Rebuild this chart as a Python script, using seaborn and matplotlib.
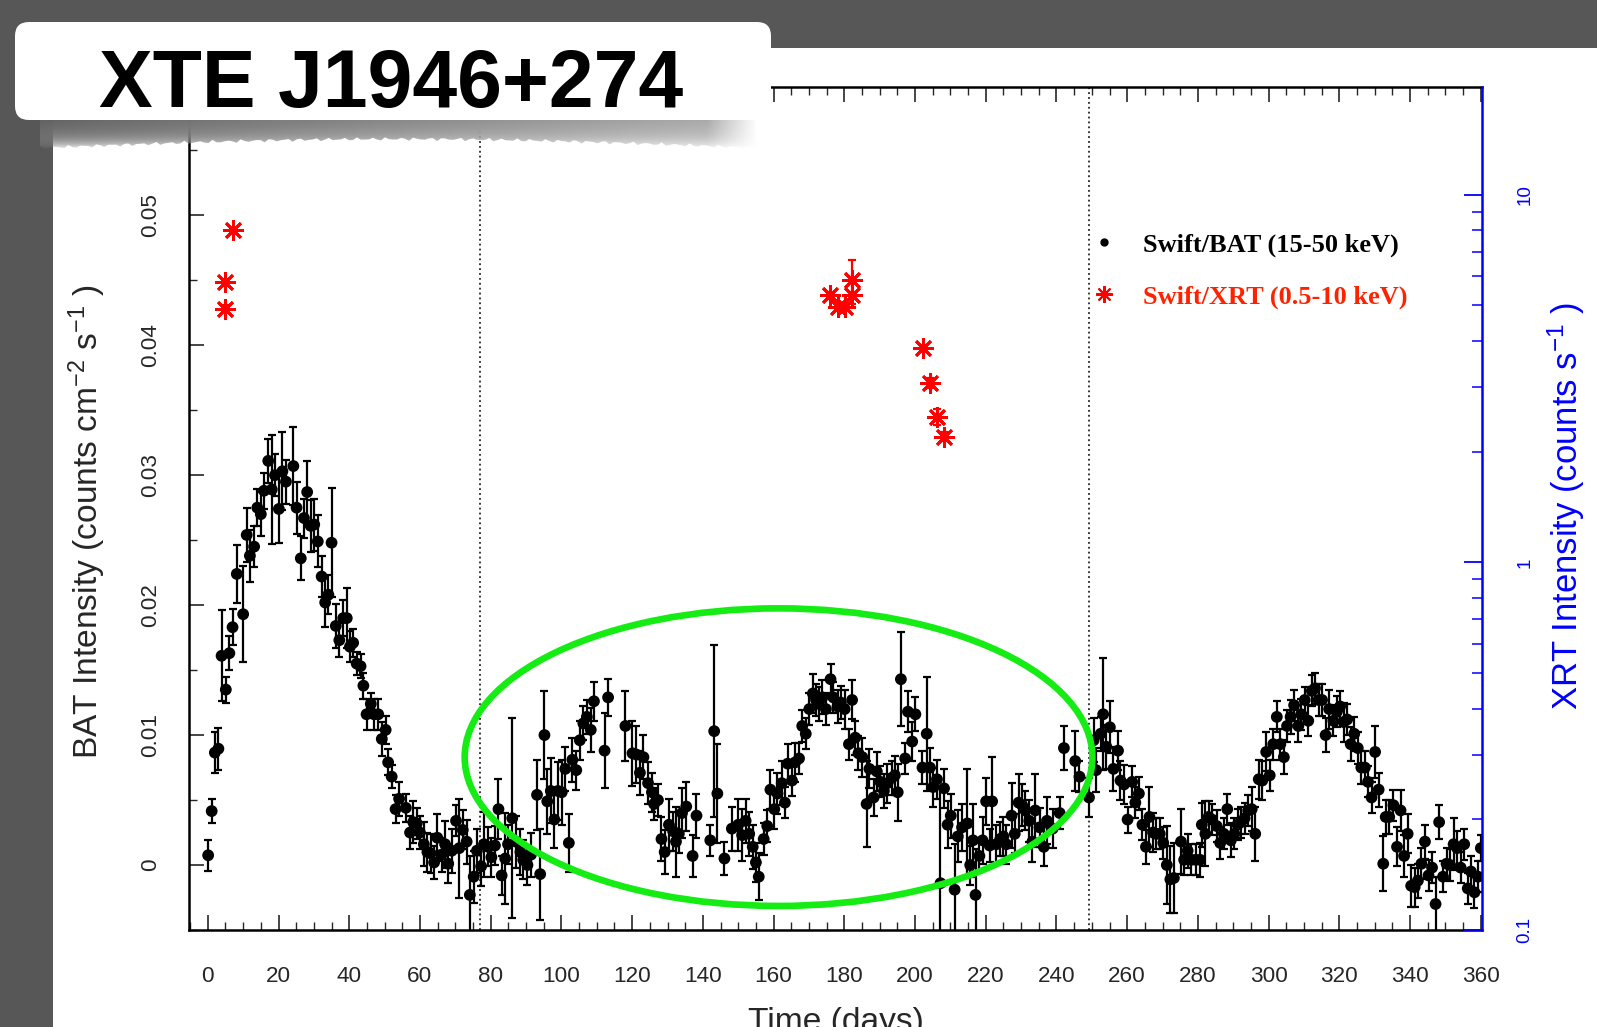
import numpy as np
import pandas as pd
import matplotlib
matplotlib.use("Agg")
import matplotlib.pyplot as plt
import seaborn as sns
from matplotlib import font_manager
from matplotlib.patches import Rectangle, FancyBboxPatch, Ellipse, Polygon
from matplotlib.lines import Line2D
from matplotlib.ticker import MultipleLocator, LogLocator, NullFormatter, FuncFormatter

# ---------------- data ----------------
bat_day = [
    0.1, 1.1, 2.0, 3.0, 3.9, 5.1, 6.1, 7.0, 8.2, 10.0, 11.0, 11.9, 13.1, 14.0, 15.0, 15.9,
    17.1, 18.1, 19.0, 20.1, 21.1, 22.1, 24.2, 25.1, 26.3, 27.2, 28.1, 29.1, 30.1, 31.1,
    32.2, 33.2, 34.1, 35.0, 36.2, 37.2, 38.3, 39.3, 40.2, 41.1, 42.1, 43.2, 44.0, 44.9,
    46.1, 47.0, 48.2, 49.2, 50.3, 51.0, 52.0, 53.1, 54.1, 56.0, 57.2, 58.1, 59.1, 60.0,
    61.1, 62.1, 63.0, 64.0, 64.9, 66.1, 67.1, 68.0, 69.0, 70.2, 71.1, 72.1, 73.2, 74.1,
    75.2, 76.1,
    77.3, 78.1, 79.3, 80.2, 81.2, 82.2, 83.1, 84.1, 84.9, 86.1, 87.2, 88.4, 89.2, 90.4,
    91.4, 93.1, 94.0, 95.2, 96.0, 97.0, 98.0, 99.0, 100.1, 101.1, 102.1, 103.1, 104.2,
    105.2, 106.2, 107.2, 108.3, 109.2, 112.2, 113.2, 118.1, 120.1, 121.2, 122.2, 123.2,
    124.5, 125.6, 126.2, 127.3, 128.3, 129.2, 130.4, 131.6, 132.4, 133.2, 134.1, 135.3,
    137.1, 138.2, 142.1, 143.2, 144.1, 146.1, 148.2, 150.0, 151.1, 152.1, 153.1, 154.1,
    155.0, 155.8, 157.2, 158.2, 159.1, 160.2, 161.1, 162.3, 163.2, 164.0, 165.2, 166.1,
    167.2, 168.1, 169.1, 170.1, 171.1, 172.0, 172.8, 173.8, 174.8, 176.1, 176.9, 178.1,
    179.0, 180.1, 181.3, 182.2, 183.1, 184.0, 185.1, 186.3, 187.1, 188.3, 189.2, 190.2,
    191.2, 192.2, 193.4, 194.3, 195.1, 196.0, 197.2, 198.0, 199.2, 200.1, 202.1, 203.3,
    204.2, 205.1, 206.2, 207.2, 208.2, 209.2, 210.1, 211.2, 212.1, 213.3, 214.8, 215.6,
    216.4, 217.1, 218.2, 219.1, 220.1, 221.1, 221.8, 223.0, 224.1, 225.0, 225.8, 227.3,
    228.2, 229.3, 230.3, 231.2, 232.3, 233.2, 234.0, 235.2, 236.4, 237.3,
    238.9, 240.9, 242.1, 245.3, 246.5, 249.2, 250.5, 251.2, 252.5, 253.2, 254.1, 255.1,
    256.1, 257.4, 258.1, 259.1, 260.1, 261.4, 262.3, 263.3, 264.3, 265.3, 266.3, 267.3,
    268.2, 269.2, 270.2, 271.2, 272.2, 273.2, 275.2, 276.1, 277.1, 278.1, 279.4, 280.6,
    281.1, 282.1, 283.0, 284.0, 285.3, 286.3, 287.3, 288.3, 289.3, 290.3, 291.2, 292.2,
    293.2, 294.2, 295.2, 296.2, 297.2, 298.2, 299.3, 300.3, 301.3, 302.3, 303.3, 304.3,
    305.2, 306.2, 307.2, 308.4, 309.2, 310.2, 311.2, 312.2, 313.1, 314.1, 315.1, 316.1,
    317.1, 318.3, 319.3, 320.2, 321.2, 322.2, 323.2, 324.2, 325.2, 326.2, 327.2, 328.1,
    329.1, 330.1, 331.1, 332.4, 333.1, 334.1, 335.3, 336.3, 337.3, 338.3, 339.3, 340.3,
    341.3, 342.2, 343.2, 344.2, 345.2, 346.2, 347.2, 348.2, 349.3, 350.3, 351.3, 352.3,
    353.3, 354.3, 355.3, 356.3, 357.2, 358.2, 359.2, 360.0,
]

bat_rate = [
    0.00075, 0.00415, 0.00865, 0.00895, 0.0161, 0.0135, 0.0163, 0.0183, 0.0224, 0.0193,
    0.0254, 0.0238, 0.0245, 0.0275, 0.0270, 0.0288, 0.0311, 0.0289, 0.0300, 0.0274,
    0.0303, 0.0295, 0.0307, 0.0275, 0.0236, 0.0267, 0.0287, 0.0261, 0.0262, 0.0249,
    0.0222, 0.0202, 0.0208, 0.0248, 0.0184, 0.0173, 0.0190, 0.0190, 0.0168, 0.0171,
    0.0155, 0.0153, 0.0138, 0.0116, 0.0124, 0.0116, 0.0116, 0.0097, 0.0104, 0.0079,
    0.0068, 0.0043, 0.0051, 0.0044, 0.0025, 0.0033, 0.0032, 0.0025, 0.0016, 0.0010,
    0.0009, 0.0002, 0.0021, 0.0008, 0.0016, 0.0001, 0.0011, 0.0034, 0.0013, 0.0027,
    0.0018, -0.0023, -0.0009, 0.0011,
    -0.0001, 0.0016, 0.0014, 0.0006, 0.0015, 0.0043, -0.0008, 0.0005, 0.0016, 0.0036,
    0.0018, 0.0010, 0.0004, 0.0000, 0.0008, 0.0054, -0.0007, 0.0100, 0.0049, 0.0057,
    0.0035, 0.0057, 0.0056, 0.0074, 0.0017, 0.0081, 0.0073, 0.0096, 0.0109, 0.0114,
    0.0104, 0.0126, 0.0088, 0.0129, 0.0107, 0.0086, 0.0085, 0.0071, 0.0083, 0.0063,
    0.0056, 0.0047, 0.0050, 0.0020, 0.0010, 0.0031, 0.0026, 0.0018, 0.0024, 0.0040,
    0.0045, 0.0007, 0.0038, 0.0019, 0.0103, 0.0055, 0.0005, 0.0028, 0.0031, 0.0023,
    0.0034, 0.0024, 0.0014, 0.0002, -0.0009, 0.0020, 0.0030, 0.0058, 0.0043, 0.0055,
    0.0063, 0.0048, 0.0078, 0.0065, 0.0079, 0.0082, 0.0107, 0.0101, 0.0120, 0.0132,
    0.0127, 0.0124, 0.0129, 0.0120, 0.0143, 0.0129, 0.0122, 0.0125, 0.0120, 0.0093,
    0.0127, 0.0098, 0.0086, 0.0083, 0.0047, 0.0074, 0.0052, 0.0072, 0.0064, 0.0057,
    0.0063, 0.0067, 0.0069, 0.0056, 0.0143, 0.0082, 0.0118, 0.0095, 0.0116, 0.0075,
    0.0101, 0.0075, 0.0060, 0.0066, -0.0014, 0.0059, 0.0031, 0.0038, -0.0019, 0.0022,
    0.0029, 0.0032, 0.0000, 0.0019, -0.0023, 0.0007, 0.0019, 0.0049, 0.0015, 0.0049,
    0.0016, 0.0020, 0.0022, 0.0016, 0.0038, 0.0024, 0.0048, 0.0046, 0.0042, 0.0034,
    0.0018, 0.0042, 0.0029, 0.0014, 0.0034,
    0.0028, 0.0040, 0.0090, 0.0080, 0.0068, 0.0052, 0.0096, 0.0073, 0.0101, 0.0116,
    0.0091, 0.0106, 0.0074, 0.0088, 0.0065, 0.0062, 0.0035, 0.0064, 0.0048, 0.0055,
    0.0031, 0.0014, 0.0037, 0.0025, 0.0024, 0.0024, 0.0017, 0.0000, -0.0011, -0.0010,
    0.0018, 0.0004, 0.0011, 0.0004, 0.0004, 0.0004, 0.0031, 0.0024, 0.0037, 0.0035,
    0.0030, 0.0017, 0.0024, 0.0043, 0.0019, 0.0024, 0.0031, 0.0033, 0.0036, 0.0042,
    0.0043, 0.0024, 0.0066, 0.0065, 0.0087, 0.0069, 0.0093, 0.0114, 0.0093, 0.0083,
    0.0107, 0.0114, 0.0123, 0.0107, 0.0116, 0.0127, 0.0111, 0.0134, 0.0136, 0.0127,
    0.0127, 0.0100, 0.0120, 0.0111, 0.0118, 0.0122, 0.0110, 0.0112, 0.0093, 0.0101,
    0.0090, 0.0075, 0.0075, 0.0064, 0.0052, 0.0087, 0.0058, 0.0001, 0.0037, 0.0037,
    0.0046, 0.0014, 0.0042, 0.0007, 0.0024, -0.0016, -0.0017, -0.0012, 0.0001, 0.0018,
    -0.0008, -0.0002, -0.0030, 0.0033, -0.0009, 0.0001, 0.0000, 0.0016, 0.0013, -0.0002,
    0.0016, -0.0018, -0.0005, -0.0021, -0.0009, 0.0013,
]

bat_err = [
    0.0012, 0.0009, 0.0016, 0.0016, 0.0035, 0.0010, 0.0013, 0.0014, 0.0022, 0.0037,
    0.0021, 0.0020, 0.0016, 0.0014, 0.0017, 0.0014, 0.0017, 0.0042, 0.0016, 0.0026,
    0.0030, 0.0017, 0.0030, 0.0020, 0.0017, 0.0015, 0.0024, 0.0020, 0.0020, 0.0020,
    0.0016, 0.0019, 0.0015, 0.0042, 0.0017, 0.0013, 0.0014, 0.0023, 0.0012, 0.0011,
    0.0009, 0.0009, 0.0010, 0.0012, 0.0008, 0.0012, 0.0012, 0.0013, 0.0011, 0.0010,
    0.0009, 0.0011, 0.0013, 0.0011, 0.0013, 0.0016, 0.0012, 0.0013, 0.0017, 0.0015,
    0.0015, 0.0013, 0.0018, 0.0013, 0.0018, 0.0015, 0.0017, 0.0012, 0.0038, 0.0015,
    0.0017, 0.0030, 0.0020, 0.0017,
    0.0015, 0.0025, 0.0015, 0.0015, 0.0015, 0.0023, 0.0015, 0.0035, 0.0015, 0.0077,
    0.0020, 0.0018, 0.0015, 0.0015, 0.0017, 0.0027, 0.0035, 0.0034, 0.0025, 0.0025,
    0.0022, 0.0022, 0.0025, 0.0017, 0.0022, 0.0017, 0.0015, 0.0015, 0.0013, 0.0013,
    0.0017, 0.0015, 0.0029, 0.0014, 0.0027, 0.0025, 0.0022, 0.0017, 0.0017, 0.0016,
    0.0015, 0.0012, 0.0012, 0.0017, 0.0017, 0.0020, 0.0015, 0.0027, 0.0015, 0.0019,
    0.0019, 0.0016, 0.0017, 0.0012, 0.0066, 0.0038, 0.0013, 0.0017, 0.0020, 0.0020,
    0.0017, 0.0017, 0.0017, 0.0015, 0.0018, 0.0012, 0.0012, 0.0015, 0.0015, 0.0016,
    0.0017, 0.0012, 0.0015, 0.0012, 0.0015, 0.0012, 0.0012, 0.0012, 0.0012, 0.0015,
    0.0012, 0.0013, 0.0013, 0.0012, 0.0012, 0.0012, 0.0013, 0.0013, 0.0015, 0.0012,
    0.0015, 0.0013, 0.0013, 0.0015, 0.0033, 0.0015, 0.0014, 0.0015, 0.0012, 0.0013,
    0.0015, 0.0013, 0.0015, 0.0022, 0.0036, 0.0012, 0.0016, 0.0015, 0.0013, 0.0013,
    0.0044, 0.0015, 0.0015, 0.0015, 0.0075, 0.0015, 0.0018, 0.0017, 0.0035, 0.0020,
    0.0018, 0.0042, 0.0015, 0.0028, 0.0035, 0.0012, 0.0018, 0.0018, 0.0013, 0.0034,
    0.0015, 0.0013, 0.0015, 0.0015, 0.0025, 0.0015, 0.0022, 0.0016, 0.0015, 0.0016,
    0.0016, 0.0028, 0.0015, 0.0015, 0.0018,
    0.0015, 0.0012, 0.0017, 0.0023, 0.0012, 0.0015, 0.0017, 0.0017, 0.0013, 0.0043,
    0.0017, 0.0020, 0.0017, 0.0015, 0.0015, 0.0015, 0.0010, 0.0012, 0.0012, 0.0013,
    0.0012, 0.0013, 0.0023, 0.0015, 0.0012, 0.0012, 0.0012, 0.0030, 0.0026, 0.0027,
    0.0025, 0.0012, 0.0013, 0.0012, 0.0012, 0.0013, 0.0017, 0.0025, 0.0012, 0.0012,
    0.0012, 0.0012, 0.0012, 0.0012, 0.0013, 0.0012, 0.0012, 0.0012, 0.0012, 0.0012,
    0.0017, 0.0021, 0.0015, 0.0015, 0.0015, 0.0012, 0.0012, 0.0012, 0.0012, 0.0013,
    0.0012, 0.0013, 0.0012, 0.0012, 0.0012, 0.0010, 0.0012, 0.0012, 0.0012, 0.0012,
    0.0012, 0.0013, 0.0015, 0.0012, 0.0012, 0.0012, 0.0015, 0.0012, 0.0013, 0.0013,
    0.0012, 0.0013, 0.0013, 0.0012, 0.0012, 0.0020, 0.0013, 0.0021, 0.0013, 0.0013,
    0.0012, 0.0015, 0.0016, 0.0016, 0.0015, 0.0016, 0.0015, 0.0013, 0.0012, 0.0013,
    0.0012, 0.0012, 0.0021, 0.0013, 0.0012, 0.0012, 0.0012, 0.0020, 0.0013, 0.0012,
    0.0012, 0.0012, 0.0012, 0.0012, 0.0012, 0.0010,
]

xrt_day = [4.9, 4.9, 7.2, 175.9, 178.3, 180.2, 182.1, 182.1, 202.2, 204.2, 206.1, 208.2]
xrt_rate = [4.90, 5.78, 8.00, 5.33, 4.95, 4.95, 5.33, 5.86, 3.82, 3.08, 2.49, 2.20]
xrt_err = [0.10, 0.12, 0.12, 0.12, 0.10, 0.10, 0.12, 0.80, 0.08, 0.10, 0.12, 0.06]

phase_marks = [76.9, 249.1]           # dotted vertical separators (days)
x_ticks = list(range(0, 361, 20))
y_ticks = [0, 0.01, 0.02, 0.03, 0.04, 0.05]
xrt_ticks = [0.1, 1, 10]
xrt_tick_labels = ["0.1", "1", "10"]

title = "XTE J1946+274"
bat_label = "Swift/BAT (15-50 keV)"
xrt_label = "Swift/XRT (0.5-10 keV)"

bat = pd.DataFrame({"day": bat_day, "rate": bat_rate, "err": bat_err})
xrt = pd.DataFrame({"day": xrt_day, "rate": xrt_rate, "err": xrt_err})

# ---------------- style ----------------
sns.set_style("ticks")
_names = {f.name for f in font_manager.fontManager.ttflist}
NARROW = "Liberation Sans Narrow" in _names
SANS = "Liberation Sans Narrow" if NARROW else "Liberation Sans"
k = 1.0 if NARROW else 0.9
plt.rcParams["font.family"] = [SANS, "DejaVu Sans"]
plt.rcParams["mathtext.fontset"] = "custom"
plt.rcParams["mathtext.rm"] = SANS
plt.rcParams["mathtext.it"] = SANS
plt.rcParams["mathtext.default"] = "regular"

W, H = 1597, 1027
fig = plt.figure(figsize=(W / 100, H / 100), dpi=100, facecolor="#575757")

# white page behind the plot
bg = fig.add_axes([0, 0, 1, 1], zorder=-10)
bg.set_xlim(0, W); bg.set_ylim(H, 0); bg.axis("off")
bg.add_patch(Rectangle((53, 48), W - 53, H - 48, facecolor="white", edgecolor="none"))

# main axes
L, R, T, B = 189.4, 1481.9, 86.6, 930.0
ax = fig.add_axes([L / W, 1 - B / H, (R - L) / W, (B - T) / H], zorder=1)
ax.set_facecolor("white")

ax.errorbar(bat["day"], bat["rate"], yerr=bat["err"], fmt="none", ecolor="black",
            elinewidth=1.6, capsize=3.0, capthick=1.6, zorder=2)
sns.scatterplot(data=bat, x="day", y="rate", ax=ax, color="black", s=72,
                linewidth=0, edgecolor="none", zorder=3, legend=False)

for d in phase_marks:
    ax.axvline(d, color="black", lw=1.1, ls=(0, (1.2, 2.0)), zorder=1)

ax.add_patch(Ellipse((161.4, 0.0083), width=177.5, height=0.0229, fill=False,
                     edgecolor="#14ec14", lw=4.8, zorder=5))

ax.set_xlim(-5.2, 360.3)
ax.set_ylim(-0.005, 0.0599)
ax.set_xticks(x_ticks)
ax.xaxis.set_minor_locator(MultipleLocator(5))
ax.set_yticks(y_ticks)
ax.yaxis.set_minor_locator(MultipleLocator(0.005))
ax.yaxis.set_major_formatter(FuncFormatter(lambda v, p: f"{v:g}"))

ax.tick_params(axis="x", which="major", direction="in", length=11, width=1.2,
               top=True, bottom=True, labelsize=18 * k, pad=26)
ax.tick_params(axis="x", which="minor", direction="in", length=5.5, width=1.0,
               top=True, bottom=True)
ax.tick_params(axis="y", which="major", direction="in", length=11, width=1.2,
               left=True, right=False, labelsize=18 * k, pad=20, labelrotation=90)
ax.tick_params(axis="y", which="minor", direction="in", length=5.5, width=1.0,
               left=True, right=False)
for lab in ax.get_yticklabels():
    lab.set_verticalalignment("center")

for s in ("left", "bottom", "top"):
    ax.spines[s].set_linewidth(1.8)
    ax.spines[s].set_color("black")
ax.spines["right"].set_visible(False)

ax.set_xlabel("Time (days)", fontsize=28 * 0.86)
ax.xaxis.set_label_coords(0.5, -0.091)
ax.set_ylabel("BAT Intensity (counts cm$^{-2}$ s$^{-1}$ )", fontsize=28 * 0.86)
ax.yaxis.set_label_coords(-0.063, 0.484)

# XRT on a logarithmic right axis
ax2 = ax.twinx()
ax2.set_yscale("log")
ax2.errorbar(xrt["day"], xrt["rate"], yerr=xrt["err"], fmt="none", ecolor="red",
             elinewidth=1.6, capsize=3.2, capthick=1.6, zorder=3)
ax2.plot(xrt["day"], xrt["rate"], ls="none", marker=(8, 2, 0), ms=15, mew=2.0,
         color="red", zorder=4)
ax2.set_ylim(0.1, 19.7)
ax2.set_yticks(xrt_ticks, labels=xrt_tick_labels)
ax2.yaxis.set_minor_locator(LogLocator(base=10, subs=np.arange(2, 10)))
ax2.yaxis.set_minor_formatter(NullFormatter())
ax2.tick_params(axis="y", which="major", direction="in", length=13, width=1.3,
                colors="blue", labelsize=15 * k, pad=25, labelrotation=90)
ax2.tick_params(axis="y", which="minor", direction="in", length=7, width=1.1,
                colors="blue")
for lab in ax2.get_yticklabels():
    lab.set_verticalalignment("center")
for s in ("left", "top", "bottom"):
    ax2.spines[s].set_visible(False)
ax2.spines["right"].set_color("blue")
ax2.spines["right"].set_linewidth(1.8)
ax2.set_ylabel("XRT Intensity (counts s$^{-1}$ )", fontsize=28 * 0.89, color="blue")
ax2.yaxis.set_label_coords(1.049, 0.5026)

# legend
handles = [
    Line2D([], [], ls="none", marker="o", ms=5, color="black"),
    Line2D([], [], ls="none", marker=(8, 2, 0), ms=12, mew=1.5, color="red"),
]
leg = ax2.legend(handles, [bat_label, xrt_label], loc="upper left",
                 bbox_to_anchor=(0.6974, 0.8262), frameon=False,
                 prop={"family": "Liberation Serif", "weight": "bold", "size": 19},
                 handlelength=1.0, handletextpad=0.98, borderpad=0,
                 borderaxespad=0, labelspacing=1.06)
leg.get_texts()[0].set_color("black")
leg.get_texts()[1].set_color("#ff2200")

# title label with its drop shadow
ov = fig.add_axes([0, 0, 1, 1], zorder=20)
ov.set_xlim(0, W); ov.set_ylim(H, 0); ov.axis("off")
ov.patch.set_alpha(0)

nx, ny = 500, 60
gx = np.linspace(0, 1, nx)[None, :]
gy = np.linspace(0, 1, ny)[:, None]
grey = np.clip(0.36 + 0.30 * gx + 0.14 * gy, 0, 1)
alpha = np.clip(1.0 - gy ** 5.0, 0, 1) * np.clip((1 - gx) / 0.07, 0, 1)
img = np.dstack([grey * np.ones_like(gy)] * 3 + [alpha * np.ones_like(gx)])
sx0, sx1, sy0, sy1 = 40, 758, 112, 150
im = ov.imshow(img, extent=(sx0, sx1, sy1, sy0), interpolation="bilinear",
               aspect="auto", zorder=1)
xs = np.linspace(sx0, sx1, 180)
edge = 148 - 9 * np.sin(np.pi * (xs - sx0) / (sx1 - sx0)) \
    + 1.2 * np.sin(xs / 2.3) + 0.8 * np.sin(xs / 1.1)
clip = Polygon(np.column_stack([np.r_[xs, sx1, sx0], np.r_[edge, sy0, sy0]]),
               closed=True, transform=ov.transData)
im.set_clip_path(clip)

ov.add_patch(FancyBboxPatch((15, 22), 756, 98,
                            boxstyle="round,pad=0,rounding_size=14",
                            facecolor="white", edgecolor="none", zorder=3))
ov.text(391, 107, title, ha="center", va="baseline", fontsize=58,
        fontweight="bold", color="black",
        family=["Liberation Sans", "DejaVu Sans"], zorder=4)

fig.savefig("out.png", dpi=100, facecolor=fig.get_facecolor())
